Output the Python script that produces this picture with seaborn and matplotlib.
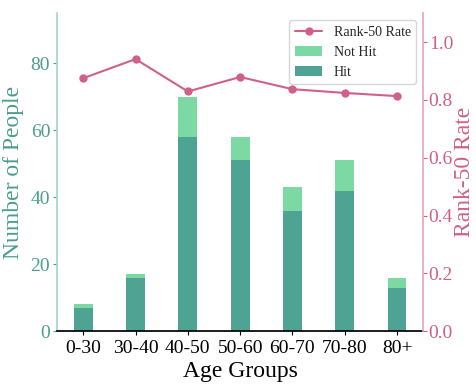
"""Stacked hit / not-hit bars by age group with Rank-50 rate on a twin axis."""

import matplotlib

matplotlib.use("Agg")

import matplotlib.pyplot as plt
import numpy as np
import pandas as pd
import seaborn as sns

age_groups = ["0-30", "30-40", "40-50", "50-60", "60-70", "70-80", "80+"]
hit_counts = [7, 16, 58, 51, 36, 42, 13]
total_counts = [8, 17, 70, 58, 43, 51, 16]
rank50_rate = [0.875, 0.941, 0.829, 0.879, 0.837, 0.824, 0.813]

TEAL = "#4a9e8e"
HIT_COLOR = "#4fa393"
NOT_HIT_COLOR = "#7dd9a4"
PINK = "#d0608a"

sns.set_theme(style="white")
plt.rcParams["font.family"] = ["Liberation Serif", "DejaVu Serif"]

df = pd.DataFrame({"age": age_groups, "hit": hit_counts, "total": total_counts})

fig = plt.figure(figsize=(4.76, 3.86), dpi=100)
ax = fig.add_axes([0.12, 0.142, 0.769, 0.824])

sns.barplot(data=df, x="age", y="total", color=NOT_HIT_COLOR, saturation=1,
            width=0.36, linewidth=0, ax=ax, label="Not Hit")
sns.barplot(data=df, x="age", y="hit", color=HIT_COLOR, saturation=1,
            width=0.36, linewidth=0, ax=ax, label="Hit")
ax.set_xlim(-0.5, len(age_groups) - 0.5)
ax.set_ylim(0, 95)
ax.set_yticks([0, 20, 40, 60, 80])
ax.set_xlabel("Age Groups", fontsize=17, color="black", labelpad=3)
ax.set_ylabel("Number of People", fontsize=17, color=TEAL, labelpad=5)
ax.tick_params(axis="x", labelsize=14, colors="black", length=3, width=0.8, bottom=True)
ax.tick_params(axis="y", labelsize=14, colors=TEAL, length=3, width=0.8, left=True, pad=2)
ax.spines["top"].set_visible(False)
ax.spines["right"].set_visible(False)
ax.spines["left"].set_color("#a8d5cc")
ax.spines["bottom"].set_color("black")

ax2 = ax.twinx()
sns.lineplot(x=np.arange(len(age_groups)), y=rank50_rate, color=PINK, marker="o",
             markersize=6, markeredgewidth=0, linewidth=1.5, ax=ax2, label="Rank-50 Rate")
ax2.set_ylim(0, 1.1)
ax2.set_yticks([0.0, 0.2, 0.4, 0.6, 0.8, 1.0])
ax2.set_ylabel("Rank-50 Rate", fontsize=17, color=PINK, labelpad=1)
ax2.tick_params(axis="y", labelsize=14, colors=PINK, length=3, width=0.8, right=True, pad=1)
ax2.spines["top"].set_visible(False)
ax2.spines["left"].set_visible(False)
ax2.spines["bottom"].set_visible(False)
ax2.spines["right"].set_color("#e8a6bd")

h1, l1 = ax.get_legend_handles_labels()
h2, l2 = ax2.get_legend_handles_labels()
if ax.get_legend() is not None:
    ax.get_legend().remove()
ax2.legend(h2 + h1, l2 + l1, loc="upper right", fontsize=10, frameon=True,
           bbox_to_anchor=(1.0, 1.0))

fig.savefig("out.png", dpi=100)
